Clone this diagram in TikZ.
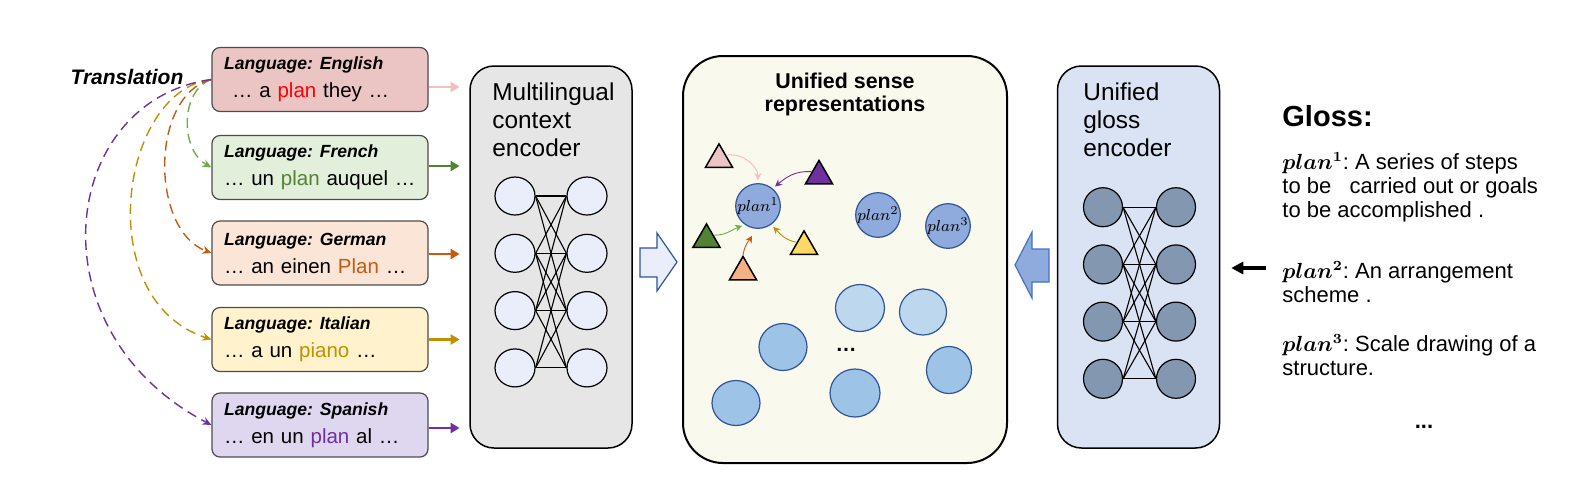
\documentclass[tikz,border=0pt]{standalone}
\usepackage{fontspec}
\setmainfont{Liberation Sans}
\usepackage{bm}
\usetikzlibrary{shapes.geometric,arrows.meta}

\definecolor{enbg}{RGB}{235,196,196}
\definecolor{frbg}{RGB}{226,239,218}
\definecolor{debg}{RGB}{251,229,214}
\definecolor{itbg}{RGB}{255,242,204}
\definecolor{esbg}{RGB}{223,215,240}
\definecolor{enw}{RGB}{255,0,0}
\definecolor{enarr}{RGB}{242,190,190}
\definecolor{frw}{RGB}{84,130,53}
\definecolor{frdash}{RGB}{112,173,71}
\definecolor{dew}{RGB}{197,90,17}
\definecolor{itw}{RGB}{191,144,0}
\definecolor{esw}{RGB}{112,48,160}
\definecolor{ctxbg}{RGB}{230,230,230}
\definecolor{ctxn}{RGB}{233,238,250}
\definecolor{usrbg}{RGB}{250,249,238}
\definecolor{glsbg}{RGB}{218,227,243}
\definecolor{glsn}{RGB}{132,151,176}
\definecolor{sfill}{RGB}{143,170,220}
\definecolor{sdark}{RGB}{47,85,151}
\definecolor{arrblue}{RGB}{68,114,196}
\definecolor{blobl}{RGB}{189,215,238}
\definecolor{blobm}{RGB}{157,195,230}
\definecolor{triyel}{RGB}{255,217,102}
\definecolor{triorg}{RGB}{244,177,131}

\tikzset{langbox/.style={draw=black!70, line width=0.6pt, rounded corners=4pt, minimum height=32pt, inner xsep=6pt, text width=96pt, align=left, font=\fontsize{10.25}{14}\selectfont}}
\tikzset{encbox/.style={draw, line width=0.75pt, rounded corners=12pt, minimum width=81pt, minimum height=191pt}}
\tikzset{neuron/.style={ellipse, draw, line width=0.6pt, minimum width=20pt, minimum height=19pt, inner sep=0pt}}
\tikzset{wire/.style={line width=0.55pt}}
\tikzset{feed/.style={line width=1.2pt, -{Triangle[length=4.5pt,width=5pt]}}}
\tikzset{transl/.style={dash pattern=on 5pt off 3pt, line width=0.7pt, -{Stealth[length=4.5pt,width=4pt]}}}
\tikzset{sense/.style={circle, draw=sdark, line width=0.6pt, fill=sfill, minimum size=21.5pt, inner sep=0pt, font=\fontsize{8.5}{9}\selectfont}}
\tikzset{blob/.style={ellipse, draw=sdark, line width=0.6pt, inner sep=0pt}}
\tikzset{tri/.style={regular polygon, regular polygon sides=3, draw, line width=0.75pt, minimum size=15.6pt, inner sep=0pt}}
\tikzset{pull/.style={-{Stealth[length=3.5pt,width=3.5pt]}, line width=0.45pt, shorten >=1.5pt}}
\tikzset{gtext/.style={anchor=base west, inner sep=0pt, align=left, font=\fontsize{11}{12}\selectfont}}
\newcommand{\senseword}[1]{{\fontsize{10.5}{12}\selectfont$\bm{plan^{#1}}$}}

\begin{document}
\frenchspacing
\begin{tikzpicture}[x=0.5pt, y=-0.5pt]
\useasboundingbox (0,0) rectangle (1590,484);

% sentences in five languages
\node[font=\fontsize{10.5}{12}\selectfont\bfseries\itshape] (trans) at (127,77) {Translation};
\foreach \y/\n/\lang/\sent/\bg/\ac/\dy in {
  79.5/en/English/{\hspace*{4pt}… a \textcolor{enw}{plan} they …}/enbg/enarr/-3.75,
  167.5/fr/French/{… un \textcolor{frw}{plan} auquel …}/frbg/frw/0.75,
  253/de/German/{… an einen \textcolor{dew}{Plan} …}/debg/dew/-0.5,
  339.5/it/Italian/{… a un \textcolor{itw}{piano} …}/itbg/itw/0,
  425/es/Spanish/{… en un \textcolor{esw}{plan} al …}/esbg/esw/-1.5} {
  \node[langbox, fill=\bg] (\n) at (320,\y) {{\fontsize{8.8}{14}\selectfont\bfseries\itshape Language: \lang}\\\sent};
  \draw[feed, \ac] ([yshift=\dy pt]\n.east) -- ++(31,0);
}
\draw[transl, frdash] (en.west) .. controls (180,90) and (180,150) .. (fr.west);
\draw[transl, dew] (en.west) .. controls (150,95) and (150,230) .. (de.west);
\draw[transl, itw] (en.west) .. controls (120,90) and (90,300) .. (it.west);
\draw[transl, esw] (en.west) .. controls (60,100) and (30,330) .. (es.west);

% context encoder
\node[encbox, fill=ctxbg] (ctx) at (551,257) {};
\node[anchor=north west, inner sep=0pt, align=left, font=\fontsize{12.2}{14}\selectfont] (ctxlbl) at (492,82) {Multilingual\\context\\encoder};
\foreach \i in {1,...,4} {
  \node[neuron, fill=ctxn] (cl\i) at (515,138.7+57.3*\i) {};
  \node[neuron, fill=ctxn] (cr\i) at (587,138.7+57.3*\i) {};
}
\foreach \i in {1,...,4}
  \foreach \j in {1,...,4} {
    \pgfmathtruncatemacro\gap{abs(\i-\j)}
    \ifnum\gap<3 \draw[wire] (cl\i.east) -- (cr\j.west); \fi
  }
\draw[line width=0.6pt, draw=sdark, fill=ctxn] (640,248) -- (657,248) -- (657,233) -- (677,262) -- (657,291) -- (657,277) -- (640,277) -- cycle;

% sense space
\node[draw, line width=1pt, rounded corners=20pt, fill=usrbg, minimum width=162pt, minimum height=203.5pt] (usr) at (845,259.5) {};
\node[anchor=north, inner sep=0pt, align=center, font=\fontsize{10.7}{11.5}\selectfont\bfseries] (ttl) at (845,73) {Unified sense\\representations};
\node[sense] (p1) at (758,206) {$plan^1$};
\node[sense] (p2) at (878,215) {$plan^2$};
\node[sense] (p3) at (948,226) {$plan^3$};
\node[tri, fill=enbg] (t1) at (719,159.5) {};
\node[tri, fill=esw] (t2) at (819,176) {};
\node[tri, fill=frw] (t3) at (706.5,239.5) {};
\node[tri, fill=triyel] (t4) at (804,246.5) {};
\node[tri, fill=triorg] (t5) at (743,272) {};
\draw[pull, enarr] (t1.side 3) to[out=10, in=90] (p1.north);
\draw[pull, esw] (t2.side 1) to[out=175, in=40] (p1.50);
\draw[pull, frdash] (t3.side 3) to[out=0, in=200] (p1.-125);
\draw[pull, itw] (t4.side 1) to[out=170, in=-45] (p1.-55);
\draw[pull, dew, shorten >=4pt] (t5.corner 1) to[out=80, in=-120] (p1.-95);
\foreach \x/\y/\w/\h/\c [count=\k] in {860/308/24.5/23.5/blobl, 923/312/23.5/23/blobl, 783/347/24/23.5/blobm, 949/370/22.5/23.5/blobm, 855/393/25/24/blobm, 736/403/24/22.5/blobm}
  \node[blob, fill=\c, minimum width=\w pt, minimum height=\h pt] (b\k) at (\x,\y) {};
\node[font=\fontsize{10.5}{12}\selectfont\bfseries] (dots) at (846,350) {…};

% gloss encoder
\draw[line width=0.6pt, draw=arrblue, fill=sfill] (1049,249) -- (1032,249) -- (1032,232) -- (1015,265) -- (1032,298) -- (1032,282) -- (1049,282) -- cycle;
\node[encbox, fill=glsbg] (gls) at (1138.5,257) {};
\node[anchor=north west, inner sep=0pt, align=left, font=\fontsize{12.2}{14}\selectfont] (glslbl) at (1083,82) {Unified\\gloss\\encoder};
\foreach \i in {1,...,4} {
  \node[neuron, circle, fill=glsn, minimum size=19.5pt] (gl\i) at (1103,150+57.2*\i) {};
  \node[neuron, circle, fill=glsn, minimum size=19.5pt] (gr\i) at (1176,150+57.2*\i) {};
}
\foreach \i in {1,...,4}
  \foreach \j in {1,...,4} {
    \pgfmathtruncatemacro\gap{abs(\i-\j)}
    \ifnum\gap<3 \draw[wire] (gl\i.east) -- (gr\j.west); \fi
  }

% glosses (base = last line)
\node[anchor=base west, inner sep=0pt, font=\fontsize{14.5}{16}\selectfont\bfseries] (gtitle) at (1282,126) {Gloss:};
\node[gtext] (g1) at (1282,217) {\senseword{1}: A series of steps\\to be\ \ \ carried out or goals\\to be accomplished .};
\node[gtext] (g2) at (1282,302) {\senseword{2}: An arrangement\\scheme .};
\node[gtext] (g3) at (1282,375) {\senseword{3}: Scale drawing of a\\structure.};
\node[font=\fontsize{11}{12}\selectfont\bfseries] (gdots) at (1424,427) {...};
\coordinate (gin) at (1266,268);
\draw[line width=1.6pt, -{Triangle[length=6pt,width=6pt]}, shorten >=5.5pt] (gin) -- (gin -| gls.east);
\end{tikzpicture}
\end{document}
